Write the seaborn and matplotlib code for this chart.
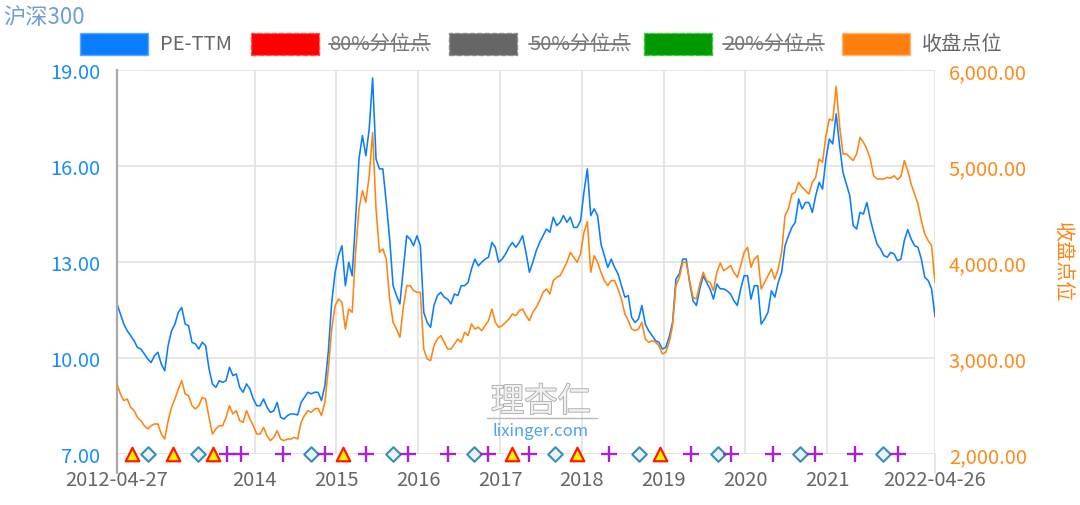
import numpy as np
import pandas as pd
import matplotlib
matplotlib.use('Agg')
import matplotlib.pyplot as plt
import matplotlib.dates as mdates
import matplotlib.ticker as mticker
import matplotlib.patheffects as pe
from matplotlib.patches import Rectangle
from matplotlib.lines import Line2D
import seaborn as sns

# ---------------- data ----------------
title_text = '沪深300'
start_date = '2012-04-27'
end_date = '2022-04-26'

pe_ttm = [
    11.69, 11.38, 11.06, 10.85, 10.70, 10.54, 10.33, 10.28, 10.13, 9.97,
    9.86, 10.07, 10.18, 9.81, 9.60, 10.39, 10.85, 11.06, 11.43, 11.58,
    11.06, 11.01, 10.49, 10.44, 10.28, 10.49, 10.39, 9.66, 9.19, 9.08,
    9.29, 9.24, 9.29, 9.71, 9.45, 9.50, 9.08, 8.93, 9.19, 9.03,
    8.72, 8.51, 8.51, 8.72, 8.46, 8.30, 8.35, 8.61, 8.15, 8.09,
    8.20, 8.25, 8.25, 8.22, 8.61, 8.77, 8.93, 8.88, 8.93, 8.93,
    8.67, 9.14,
    10.2, 11.74, 12.68, 13.2, 13.51, 12.26, 12.99, 12.57, 14.34, 16.22,
    16.95, 16.32, 17.16, 18.75, 16.22, 15.91, 15.91, 14.86, 13.72, 12.26,
    11.95, 11.69, 12.78, 13.82, 13.72, 13.51, 13.82, 13.51, 11.43, 11.11,
    10.96, 11.64, 11.95, 12.05, 11.9, 11.84, 11.69, 12.0, 11.95, 12.26,
    12.26, 12.36, 12.78, 13.09, 12.88, 12.99, 13.09, 13.15, 13.61, 13.46,
    12.99, 13.09, 13.25, 13.46, 13.61, 13.46, 13.61, 13.82, 13.3, 12.68,
    12.99,
    13.35, 13.61, 13.82, 14.03, 13.93, 14.4, 14.14, 14.24, 14.45,
    14.24, 14.4, 14.08, 14.08, 14.29, 15.18, 15.91, 14.45, 14.66, 14.45,
    13.56, 13.2, 12.83, 13.09, 12.83, 12.63, 12.26, 11.9, 11.95, 11.27,
    11.11, 11.22, 11.64, 11.06, 10.85, 10.7, 10.54, 10.49, 10.28, 10.33,
    10.65, 11.11, 12.47, 12.63, 13.09, 13.09, 12.36, 11.79, 11.64, 12.16,
    12.57, 12.36, 12.16, 11.84, 12.31, 12.16, 12.16, 12.1, 12.0, 11.79,
    11.64, 12.16, 12.57,
    12.57, 11.84, 12.26, 12.26, 11.06, 11.22, 11.43, 12.1, 11.9, 12.36,
    12.68, 13.51, 13.82, 14.08, 14.24, 14.97, 14.66, 14.86, 14.86, 14.55,
    15.07, 15.49, 15.28, 16.22, 16.84, 16.69, 17.63, 16.64, 15.8, 15.43,
    15.07, 14.14, 14.03, 14.55, 14.5, 14.86, 14.34, 13.93, 13.56, 13.41,
    13.2, 13.15, 13.3, 13.25, 13.04, 13.09, 13.67, 14.01, 13.72, 13.51,
    13.46, 13.09, 12.52, 12.42, 12.16, 11.3,
]

close_points = [
    2729, 2625, 2556, 2573, 2486, 2452, 2382, 2347, 2295, 2261,
    2295, 2313, 2313, 2208, 2156, 2347, 2486, 2573, 2677, 2764,
    2625, 2608, 2504, 2469, 2504, 2590, 2573, 2382, 2208, 2261,
    2295, 2295, 2382, 2504, 2417, 2452, 2347, 2330, 2452, 2365,
    2295, 2208, 2208, 2278, 2191, 2139, 2174, 2243, 2156, 2139,
    2156, 2156, 2174, 2156, 2330, 2400, 2452, 2434, 2469, 2476,
    2400, 2538,
    2886, 3302, 3545, 3615, 3580, 3302, 3510, 3476, 4101, 4552,
    4743, 4622, 4899, 5350, 4552, 4101, 4136, 4031, 3615, 3372,
    3302, 3215, 3528, 3754, 3754, 3702, 3684, 3684, 3094, 2990,
    2972, 3129, 3198, 3233, 3163, 3094, 3094, 3146, 3198, 3163,
    3267, 3233, 3354, 3302, 3320, 3285, 3337, 3389, 3510, 3372,
    3320, 3337, 3372, 3406, 3458, 3441, 3493, 3510, 3441, 3389,
    3476,
    3528, 3597, 3684, 3719, 3667, 3806, 3840, 3858, 3927, 3997,
    4101, 4049, 3997, 4084, 4309, 4420, 3893, 4066, 3997, 3893,
    3806, 3754, 3806, 3806, 3719, 3615, 3458, 3389, 3302, 3285,
    3302, 3372, 3198, 3163, 3181, 3163, 3129, 3042, 3059, 3163,
    3337, 3754, 3840, 3997, 3997, 3806, 3632, 3615, 3771, 3893,
    3806, 3788, 3702, 3893, 3990, 3910, 3934, 3962, 3893, 3840,
    3962, 4101,
    4153, 3945, 4031, 4066, 3719, 3788, 3858, 3927, 3823, 3927,
    4101, 4483, 4552, 4708, 4726, 4830, 4778, 4743, 4708, 4830,
    4882, 5073, 5038, 5316, 5490, 5472, 5830, 5420, 5125, 5125,
    5090, 5056, 5125, 5299, 5247, 5177, 5073, 4899, 4865, 4865,
    4865, 4882, 4872, 4899, 4858, 4892, 5056, 4951, 4813, 4708,
    4604, 4431, 4292, 4222, 4170, 3788,
]

tick_dates = ['2012-04-27', '2014-01-01', '2015-01-01', '2016-01-01', '2017-01-01',
              '2018-01-01', '2019-01-01', '2020-01-01', '2021-01-01', '2022-04-26']
tick_labels = ['2012-04-27', '2014', '2015', '2016', '2017',
               '2018', '2019', '2020', '2021', '2022-04-26']
pe_ticks = [7, 10, 13, 16, 19]
close_ticks = [2000, 3000, 4000, 5000, 6000]

triangle_dates = ['2012-07-01', '2013-01-02', '2013-07-01', '2015-01-31',
                  '2017-02-24', '2017-12-10', '2018-12-16']
diamond_dates = ['2012-09-12', '2013-04-23', '2014-09-08', '2015-09-13', '2016-09-07',
                 '2017-09-01', '2018-09-12', '2019-09-01', '2020-08-31', '2021-09-06']
plus_dates = ['2013-08-29', '2013-11-01', '2014-05-08', '2014-11-11', '2015-05-13',
              '2015-11-16', '2016-05-14', '2016-11-08', '2017-05-09', '2018-05-03',
              '2019-05-01', '2019-10-29', '2020-05-03', '2020-11-05', '2021-05-06',
              '2021-11-13']

legend_labels = ['PE-TTM', '80%分位点', '50%分位点', '20%分位点', '收盘点位']
legend_struck = [False, True, True, True, False]

# ---------------- style ----------------
BLUE = '#0a7dff'
ORANGE = '#ff8412'
GRID = '#e2e2e2'
W, H = 1080, 506

sns.set_theme(style='white')
plt.rcParams['font.family'] = ['Noto Sans CJK SC', 'DejaVu Sans']
plt.rcParams['axes.unicode_minus'] = False

dates = pd.date_range(start_date, end_date, periods=len(pe_ttm))
df = pd.DataFrame({'date': dates, 'pe': pe_ttm, 'close': close_points})

fig = plt.figure(figsize=(W / 100, H / 100), dpi=100)
L, R, T, B = 117, 935, 71, 455
ax = fig.add_axes([L / W, 1 - B / H, (R - L) / W, (B - T) / H])
ax2 = ax.twinx()

sns.lineplot(data=df, x='date', y='pe', ax=ax, color=BLUE, lw=1.15)
sns.lineplot(data=df, x='date', y='close', ax=ax2, color=ORANGE, lw=1.15)

xmin, xmax = pd.Timestamp(start_date), pd.Timestamp(end_date)
ax.set_xlim(xmin, xmax)
ax.set_ylim(pe_ticks[0], pe_ticks[-1])
ax2.set_ylim(close_ticks[0], close_ticks[-1])

ax.set_xticks(pd.to_datetime(tick_dates))
ax.set_xticklabels(tick_labels)
ax.set_yticks(pe_ticks)
ax.yaxis.set_major_formatter(mticker.FormatStrFormatter('%.2f'))
ax2.set_yticks(close_ticks)
ax2.yaxis.set_major_formatter(mticker.StrMethodFormatter('{x:,.2f}'))

ax.grid(True, color=GRID, lw=1.2)
ax.set_axisbelow(True)
ax.set_xlabel('')
ax.set_ylabel('')
ax2.set_xlabel('')
ax2.set_ylabel('')

ax.tick_params(axis='x', length=0, pad=11, labelsize=14.5, labelcolor='#666666')
ax.tick_params(axis='y', length=0, pad=12, labelsize=14.5, labelcolor='#1a8cff')
ax2.tick_params(axis='y', length=0, pad=10, labelsize=14.5, labelcolor='#ff8a1c')

for a in (ax, ax2):
    for s in a.spines.values():
        s.set_visible(False)
ax.spines['left'].set_visible(True)
ax.spines['left'].set_color('#a8a8a8')
ax.spines['left'].set_linewidth(1.6)

# small extensions of the first/last vertical lines below the axis
ax.add_line(Line2D([0, 0], [-0.05, 0], transform=ax.transAxes, color='#a8a8a8', lw=1.6, clip_on=False))
ax.add_line(Line2D([1, 1], [-0.05, 0], transform=ax.transAxes, color=GRID, lw=1.2, clip_on=False))

# event markers along the baseline
xt = ax2.get_xaxis_transform()
ax2.scatter(mdates.date2num(pd.to_datetime(diamond_dates)), np.zeros(len(diamond_dates)),
            transform=xt, marker='D', s=55, facecolor='#e6f3fb', edgecolor='#3d8db2',
            lw=1.5, clip_on=False, zorder=5)
ax2.scatter(mdates.date2num(pd.to_datetime(plus_dates)), np.zeros(len(plus_dates)),
            transform=xt, marker='+', s=140, color='#a424d4', lw=1.7, clip_on=False, zorder=5)
ax2.scatter(mdates.date2num(pd.to_datetime(triangle_dates)), np.zeros(len(triangle_dates)),
            transform=xt, marker='^', s=95, facecolor='#ffee00', edgecolor='#ff1a00',
            lw=1.6, clip_on=False, zorder=6)

# title
fig.text(3 / W, 1 - 17 / H, title_text, color='#6f9de0', fontsize=16, va='center', ha='left')

# right axis label
fig.text(1062 / W, 1 - 262 / H, '收盘点位', color=ORANGE, fontsize=14.5, rotation=270,
         va='center', ha='center')

# legend (manual)
patch_specs = [
    (80, BLUE, '#5aaaff', 'solid'),
    (251, '#ff0000', '#ff4d4d', 'dashed'),
    (449, '#666666', '#8a8a8a', 'dashed'),
    (644, '#009900', '#33cc33', 'dashed'),
    (842, '#ff7f0e', '#ffb57a', 'solid'),
]
text_x = [160, 329, 529, 723, 922]
leg_texts = []
for (px, fc, ec, ls), tx, lab, struck in zip(patch_specs, text_x, legend_labels, legend_struck):
    fig.patches.append(Rectangle((px / W, 1 - 56 / H), 68 / W, 22 / H, transform=fig.transFigure,
                                 facecolor=fc, edgecolor=ec, lw=1.0, linestyle=ls))
    t = fig.text(tx / W, 1 - 45 / H, lab, color='#666666' if not struck else '#777777',
                 fontsize=14.5, va='center', ha='left')
    leg_texts.append((t, struck))

# watermark
fig.text(541 / W, 1 - 403 / H, '理杏仁', fontsize=24, color='#f0f0f0', ha='center', va='center',
         path_effects=[pe.withStroke(linewidth=1.2, foreground='#a8a8a8')])
fig.add_artist(Line2D([487 / W, 597 / W], [1 - 419 / H, 1 - 419 / H], transform=fig.transFigure,
                      color='#b8b8b8', lw=1.0))
fig.text(541 / W, 1 - 432 / H, 'lixinger.com', fontsize=12, color='#4aa3f5', ha='center', va='center')

# strike-through for hidden legend items
fig.canvas.draw()
renderer = fig.canvas.get_renderer()
for t, struck in leg_texts:
    if struck:
        bb = t.get_window_extent(renderer)
        yc = 1 - 45 / H
        fig.add_artist(Line2D([bb.x0 / W, bb.x1 / W], [yc, yc], transform=fig.transFigure,
                              color='#777777', lw=1.3))

fig.savefig('out.png', dpi=100)
